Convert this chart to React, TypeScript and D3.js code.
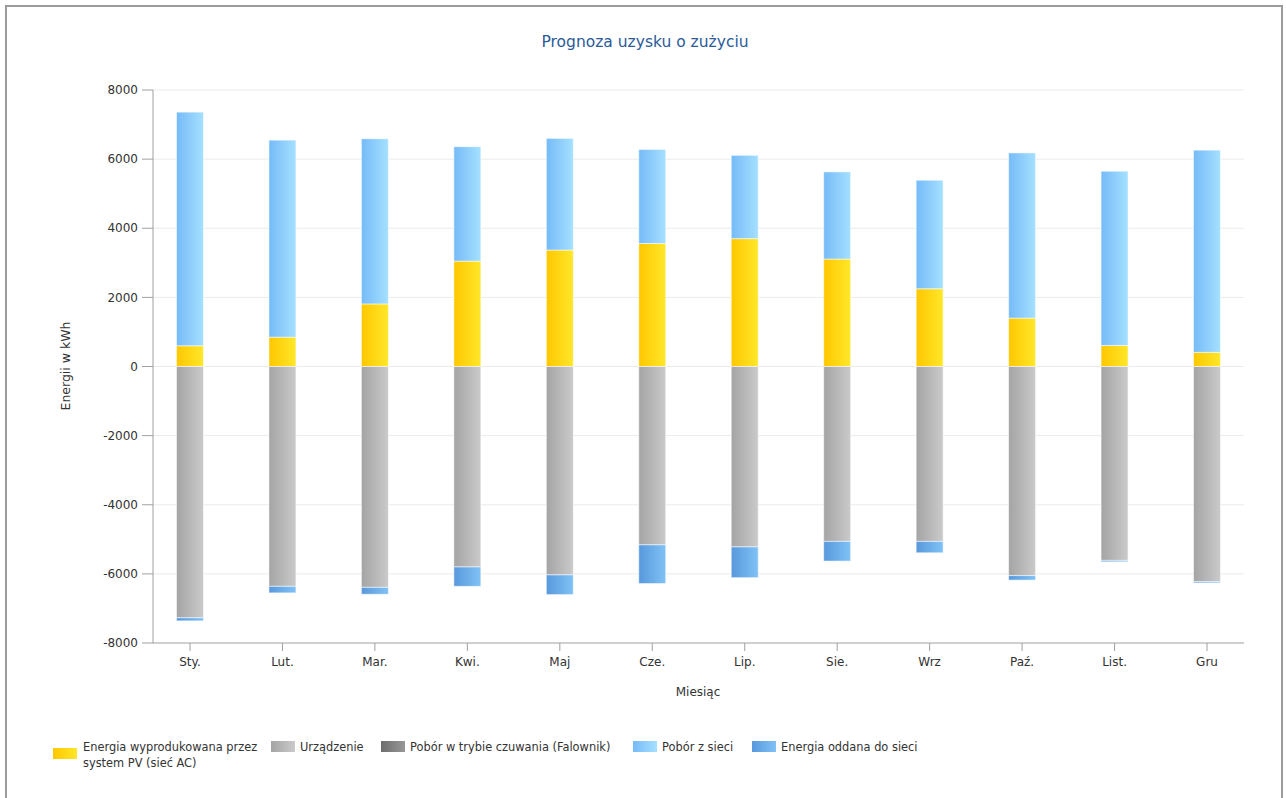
import React from "react";
import * as d3 from "d3";

const months = ["Sty.", "Lut.", "Mar.", "Kwi.", "Maj", "Cze.", "Lip.", "Sie.", "Wrz", "Paź.", "List.", "Gru"];
const pvEnergy = [600, 850, 1810, 3050, 3370, 3560, 3700, 3110, 2250, 1400, 610, 410];
const gridDraw = [6760, 5700, 4780, 3310, 3230, 2720, 2410, 2520, 3140, 4780, 5040, 5850];
const devices = [-7270, -6360, -6390, -5800, -6030, -5160, -5220, -5060, -5060, -6050, -5610, -6220];
const standby = [0, 0, 0, 0, 0, 0, 0, 0, 0, 0, 0, 0];
const feedIn = [-90, -190, -200, -560, -570, -1120, -890, -570, -330, -130, -40, -40];
const yTicks = [-8000, -6000, -4000, -2000, 0, 2000, 4000, 6000, 8000];

const seriesKeys = ["pv", "dev", "standby", "grid", "feed"];
const seriesNames: Record<string, string[]> = {
  pv: ["Energia wyprodukowana przez", "system PV (sieć AC)"],
  dev: ["Urządzenie"],
  standby: ["Pobór w trybie czuwania (Falownik)"],
  grid: ["Pobór z sieci"],
  feed: ["Energia oddana do sieci"],
};
const gradients: Record<string, [string, string]> = {
  pv: ["#FFC700", "#FFE72A"],
  dev: ["#A4A4A4", "#CACACA"],
  standby: ["#6E6E6E", "#979797"],
  grid: ["#76BBF8", "#A5E0FF"],
  feed: ["#5898DC", "#80C2F6"],
};

const FONT = "'DejaVu Sans', Verdana, sans-serif";

export default function App() {
  const left = 153, right = 1244, top = 90, bottom = 643;
  const x = d3.scalePoint<string>().domain(months).range([left, right]).padding(0.4);
  const y = d3.scaleLinear().domain([-8000, 8000]).range([bottom, top]);
  const barW = 27;

  const rows = months.map((m, i) => ({
    month: m,
    pv: pvEnergy[i],
    dev: devices[i],
    standby: standby[i],
    grid: gridDraw[i],
    feed: feedIn[i],
  }));
  const stack = d3
    .stack<any>()
    .keys(seriesKeys)
    .order(d3.stackOrderNone)
    .offset(d3.stackOffsetDiverging);
  const layers = stack(rows);

  const legendItems = [
    { key: "pv", sx: 53, sy: 748, tx: 83 },
    { key: "dev", sx: 271, sy: 741, tx: 300 },
    { key: "standby", sx: 381, sy: 741, tx: 410 },
    { key: "grid", sx: 633, sy: 741, tx: 662 },
    { key: "feed", sx: 752, sy: 741, tx: 781 },
  ];

  return (
    <svg
      width={1286}
      height={798}
      style={{ position: "absolute", left: 0, top: 0, display: "block", background: "#fff" }}
    >
      <defs>
        {seriesKeys.map((k) => (
          <linearGradient key={k} id={"g-" + k} x1="0" x2="1" y1="0" y2="0">
            <stop offset="0%" stopColor={gradients[k][0]} />
            <stop offset="100%" stopColor={gradients[k][1]} />
          </linearGradient>
        ))}
      </defs>
      <rect x={6} y={6} width={1276} height={800} fill="#fff" stroke="#9b9b9b" strokeWidth={2} />

      <text x={645} y={47} textAnchor="middle" fontFamily={FONT} fontSize={15.5} fill="#2a5a98">
        Prognoza uzysku o zużyciu
      </text>

      {yTicks.map((t) => (
        <g key={t}>
          {t !== -8000 && (
            <line x1={left} x2={right} y1={y(t)} y2={y(t)} stroke="#ebebeb" strokeWidth={1} />
          )}
          <line x1={142} x2={left} y1={y(t)} y2={y(t)} stroke="#a0a0a0" strokeWidth={1} />
          <text
            x={138}
            y={y(t)}
            dy="0.35em"
            textAnchor="end"
            fontFamily={FONT}
            fontSize={12}
            fill="#333"
          >
            {t}
          </text>
        </g>
      ))}

      {layers.map((layer) =>
        layer.map((d, i) => {
          const y0 = y(d[0]);
          const y1 = y(d[1]);
          const h = Math.abs(y0 - y1);
          if (h < 0.01) return null;
          return (
            <rect
              key={layer.key + i}
              x={(x(months[i]) as number) - barW / 2}
              y={Math.min(y0, y1)}
              width={barW}
              height={h}
              fill={`url(#g-${layer.key})`}
              stroke="rgba(255,255,255,0.55)"
              strokeWidth={1}
            />
          );
        })
      )}

      <line x1={left} x2={left} y1={top} y2={bottom} stroke="#a0a0a0" strokeWidth={1} />
      <line x1={left} x2={right} y1={bottom} y2={bottom} stroke="#a0a0a0" strokeWidth={1} />
      {months.map((m) => (
        <g key={m}>
          <line
            x1={x(m) as number}
            x2={x(m) as number}
            y1={bottom}
            y2={bottom + 8}
            stroke="#a0a0a0"
            strokeWidth={1}
          />
          <text
            x={x(m) as number}
            y={666}
            textAnchor="middle"
            fontFamily={FONT}
            fontSize={12}
            fill="#333"
          >
            {m}
          </text>
        </g>
      ))}

      <text x={698} y={696} textAnchor="middle" fontFamily={FONT} fontSize={12} fill="#333">
        Miesiąc
      </text>
      <text
        transform={`translate(70,366) rotate(-90)`}
        textAnchor="middle"
        fontFamily={FONT}
        fontSize={12.5}
        fill="#333"
      >
        Energii w kWh
      </text>

      {legendItems.map((it) => (
        <g key={it.key}>
          <rect x={it.sx} y={it.sy} width={24} height={11} fill={`url(#g-${it.key})`} />
          {seriesNames[it.key].map((line, j) => (
            <text
              key={j}
              x={it.tx}
              y={751 + j * 16}
              fontFamily={FONT}
              fontSize={11.4}
              fill="#333"
            >
              {line}
            </text>
          ))}
        </g>
      ))}
    </svg>
  );
}
